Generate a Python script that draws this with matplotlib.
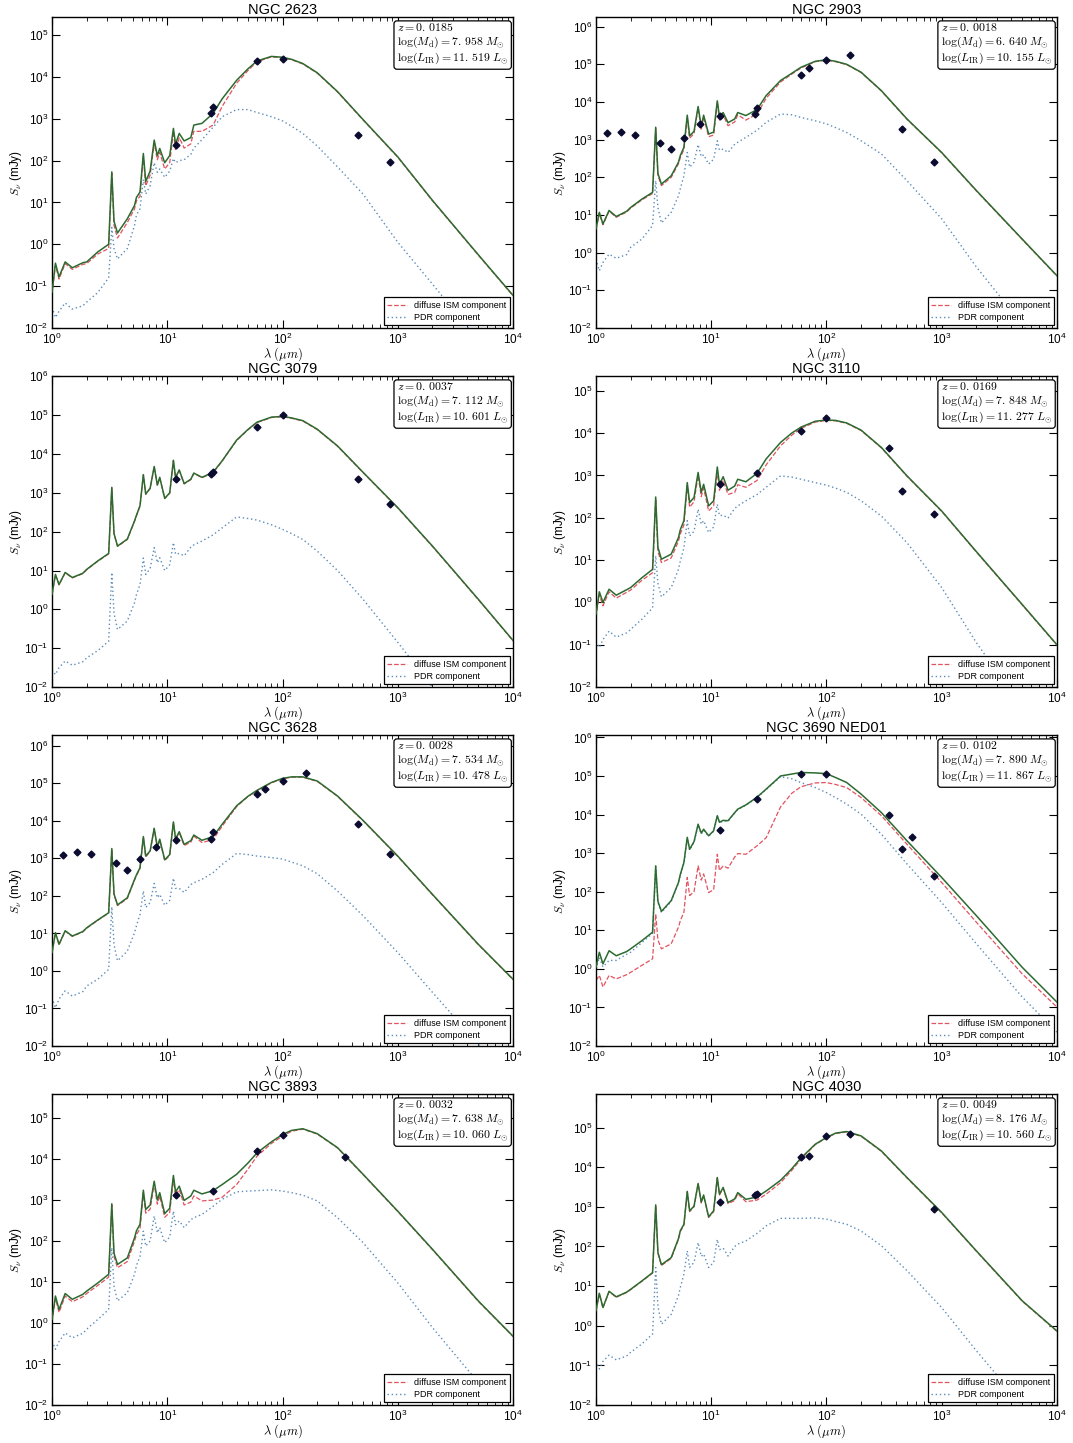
import numpy as np
import matplotlib
matplotlib.use("Agg")
import matplotlib.pyplot as plt
from matplotlib.ticker import LogLocator, NullFormatter, NullLocator

plt.rcParams['font.family'] = ['Liberation Sans', 'DejaVu Sans']
plt.rcParams['mathtext.fontset'] = 'cm'
plt.rcParams['xtick.direction'] = 'in'
plt.rcParams['ytick.direction'] = 'in'
plt.rcParams['xtick.top'] = True
plt.rcParams['ytick.right'] = True

# model wavelength grid (micron); model fluxes below are log10(mJy)
wavelength = [1.0, 1.07, 1.15, 1.3, 1.5, 1.85, 2.0, 2.5, 3.1, 3.3,
              3.45, 3.7, 4.5, 5.2, 5.4, 5.8, 6.2, 6.5, 7.1, 7.7,
              8.2, 8.6, 9.5, 10.5, 11.3, 11.8, 12.7, 14.0, 16.0, 17.0,
              20.0, 25.0, 30.0, 40.0, 50.0, 60.0, 80.0, 100.0, 120.0, 150.0,
              200.0, 300.0, 500.0, 1000.0, 2000.0, 5000.0, 10000.0]

# NGC 2623
ngc2623_total = [-1.14, -0.45, -0.78, -0.42, -0.56, -0.44, -0.42, -0.18, 0.00, 1.73,
                 0.55, 0.27, 0.61, 0.93, 1.12, 1.25, 2.17, 1.50, 1.75, 2.49,
                 2.12, 2.29, 1.95, 2.12, 2.77, 2.40, 2.65, 2.47, 2.55, 2.85,
                 2.89, 3.13, 3.48, 3.92, 4.19, 4.38, 4.49, 4.47, 4.42, 4.32,
                 4.10, 3.65, 2.98, 2.09, 1.05, -0.25, -1.22]
ngc2623_ism = [-1.20, -0.50, -0.83, -0.46, -0.60, -0.48, -0.46, -0.23, -0.10, 1.70,
               0.45, 0.15, 0.52, 0.85, 1.04, 1.15, 2.10, 1.40, 1.65, 2.42,
               2.02, 2.20, 1.80, 1.95, 2.70, 2.25, 2.55, 2.30, 2.40, 2.70,
               2.70, 2.85, 3.30, 3.85, 4.15, 4.36, 4.48, 4.46, 4.41, 4.31,
               4.09, 3.64, 2.97, 2.08, 1.04, -0.26, -1.23]
ngc2623_pdr = [-1.50, -1.75, -1.60, -1.40, -1.55, -1.47, -1.38, -1.15, -0.80, 0.40,
               -0.10, -0.35, -0.10, 0.45, 0.70, 0.85, 1.55, 1.20, 1.40, 1.95,
               1.72, 1.80, 1.60, 1.75, 2.05, 1.95, 2.00, 2.02, 2.15, 2.30,
               2.50, 2.80, 3.05, 3.22, 3.22, 3.15, 3.05, 2.95, 2.82, 2.65,
               2.35, 1.85, 1.20, 0.05, -0.95, -2.30, -3.40]
ngc2623_obs_wl = [12, 24, 25, 60, 100, 450, 850]
ngc2623_obs_flux = [235, 1400, 1900, 24500, 27000, 400, 92]

# NGC 2903
ngc2903_total = [0.63, 1.07, 0.76, 1.12, 0.96, 1.10, 1.20, 1.42, 1.60, 3.33,
                 2.10, 1.82, 2.04, 2.40, 2.58, 2.80, 3.65, 3.10, 3.22, 3.88,
                 3.35, 3.65, 3.15, 3.20, 4.03, 3.60, 3.72, 3.45, 3.55, 3.72,
                 3.64, 3.80, 4.17, 4.57, 4.76, 4.92, 5.08, 5.12, 5.08, 5.00,
                 4.79, 4.30, 3.55, 2.66, 1.65, 0.36, -0.61]
ngc2903_ism = [0.60, 1.05, 0.74, 1.10, 0.94, 1.08, 1.18, 1.40, 1.57, 3.30,
               2.05, 1.78, 2.00, 2.36, 2.53, 2.74, 3.60, 3.04, 3.16, 3.84,
               3.28, 3.60, 3.08, 3.12, 4.00, 3.52, 3.66, 3.37, 3.47, 3.66,
               3.52, 3.68, 4.10, 4.53, 4.74, 4.90, 5.07, 5.11, 5.07, 4.99,
               4.78, 4.29, 3.54, 2.65, 1.64, 0.35, -0.62]
ngc2903_pdr = [-0.17, -0.48, -0.26, -0.04, -0.15, -0.05, 0.14, 0.36, 0.72, 1.91,
               1.20, 0.79, 1.07, 1.51, 1.70, 2.04, 2.66, 2.27, 2.40, 2.87,
               2.55, 2.60, 2.35, 2.48, 2.97, 2.72, 2.75, 2.66, 2.88, 2.93,
               3.06, 3.25, 3.46, 3.68, 3.66, 3.59, 3.50, 3.42, 3.32, 3.19,
               2.97, 2.62, 1.91, 0.90, -0.38, -1.90, -3.10]
ngc2903_obs_wl = [1.25, 1.65, 2.17, 3.6, 4.5, 5.8, 8.0, 12, 24, 25, 60, 70, 100, 160, 450, 850]
ngc2903_obs_flux = [1500, 1560, 1350, 800, 550, 1100, 2600, 4150, 4700, 6900,
                    52000, 78000, 132000, 180000, 1900, 255]

# NGC 3079
ngc3079_total = [0.39, 0.90, 0.64, 0.95, 0.82, 0.93, 1.03, 1.25, 1.44, 3.14,
                 1.95, 1.63, 1.81, 2.28, 2.42, 2.67, 3.47, 2.97, 3.12, 3.68,
                 3.20, 3.40, 2.86, 3.00, 3.84, 3.40, 3.59, 3.24, 3.35, 3.51,
                 3.40, 3.53, 3.83, 4.36, 4.63, 4.82, 4.95, 4.97, 4.93, 4.86,
                 4.64, 4.21, 3.53, 2.62, 1.63, 0.26, -0.80]
ngc3079_ism = [0.38, 0.89, 0.63, 0.94, 0.81, 0.92, 1.02, 1.24, 1.43, 3.13,
               1.94, 1.62, 1.80, 2.27, 2.41, 2.66, 3.46, 2.96, 3.11, 3.67,
               3.19, 3.39, 2.85, 2.99, 3.83, 3.39, 3.58, 3.23, 3.34, 3.50,
               3.39, 3.52, 3.82, 4.35, 4.62, 4.81, 4.94, 4.96, 4.92, 4.85,
               4.63, 4.20, 3.52, 2.61, 1.62, 0.25, -0.81]
ngc3079_pdr = [-1.55, -1.68, -1.50, -1.33, -1.44, -1.35, -1.25, -1.06, -0.82, 0.95,
               -0.10, -0.52, -0.30, 0.17, 0.38, 0.64, 1.32, 0.90, 1.05, 1.59,
               1.20, 1.33, 1.00, 1.15, 1.72, 1.42, 1.44, 1.38, 1.60, 1.66,
               1.76, 1.92, 2.10, 2.38, 2.34, 2.30, 2.18, 2.06, 1.95, 1.80,
               1.50, 1.00, 0.26, -0.85, -2.00, -3.50, -4.70]
ngc3079_obs_wl = [12, 24, 25, 60, 100, 450, 850]
ngc3079_obs_flux = [2300, 3000, 3400, 50000, 102000, 2300, 520]

# NGC 3110
ngc3110_total = [-0.28, 0.25, 0.00, 0.31, 0.17, 0.30, 0.35, 0.58, 0.78, 2.49,
                 1.30, 1.02, 1.14, 1.53, 1.72, 1.93, 2.83, 2.36, 2.48, 3.07,
                 2.60, 2.79, 2.28, 2.40, 3.20, 2.78, 2.97, 2.65, 2.75, 2.91,
                 2.85, 3.05, 3.39, 3.78, 4.00, 4.14, 4.28, 4.31, 4.30, 4.24,
                 4.07, 3.66, 2.99, 2.16, 1.20, -0.05, -1.00]
ngc3110_ism = [-0.35, 0.18, -0.08, 0.25, 0.10, 0.24, 0.29, 0.52, 0.70, 2.45,
               1.20, 0.94, 1.05, 1.45, 1.62, 1.83, 2.76, 2.25, 2.38, 3.00,
               2.50, 2.70, 2.16, 2.28, 3.10, 2.65, 2.88, 2.55, 2.60, 2.78,
               2.72, 2.88, 3.25, 3.70, 3.95, 4.11, 4.26, 4.30, 4.29, 4.23,
               4.06, 3.65, 2.98, 2.15, 1.19, -0.06, -1.01]
ngc3110_pdr = [-0.92, -1.07, -0.88, -0.68, -0.82, -0.72, -0.64, -0.40, -0.13, 1.10,
               0.45, 0.13, 0.35, 0.78, 0.98, 1.29, 1.93, 1.57, 1.68, 2.20,
               1.85, 1.93, 1.65, 1.78, 2.32, 2.05, 2.06, 1.99, 2.22, 2.28,
               2.40, 2.55, 2.72, 2.99, 2.96, 2.91, 2.83, 2.77, 2.70, 2.60,
               2.40, 2.04, 1.41, 0.35, -0.95, -2.50, -3.70]
ngc3110_obs_wl = [12, 25, 60, 100, 350, 450, 850]
ngc3110_obs_flux = [620, 1150, 11400, 22300, 4450, 420, 121]

# NGC 3628
ngc3628_total = [0.49, 1.02, 0.71, 1.07, 0.93, 1.05, 1.15, 1.36, 1.55, 3.26,
                 2.05, 1.76, 1.95, 2.44, 2.56, 2.75, 3.58, 3.06, 3.20, 3.80,
                 3.30, 3.51, 2.96, 3.10, 3.97, 3.52, 3.71, 3.37, 3.47, 3.62,
                 3.48, 3.58, 3.91, 4.40, 4.65, 4.81, 5.02, 5.13, 5.17, 5.17,
                 5.06, 4.66, 4.01, 3.06, 2.04, 0.71, -0.22]
ngc3628_ism = [0.48, 1.01, 0.70, 1.06, 0.92, 1.04, 1.14, 1.35, 1.54, 3.25,
               2.03, 1.74, 1.93, 2.42, 2.54, 2.73, 3.57, 3.04, 3.18, 3.79,
               3.28, 3.49, 2.94, 3.08, 3.96, 3.50, 3.69, 3.34, 3.43, 3.59,
               3.42, 3.50, 3.86, 4.38, 4.64, 4.80, 5.01, 5.12, 5.16, 5.16,
               5.05, 4.65, 4.00, 3.05, 2.03, 0.70, -0.23]
ngc3628_pdr = [-0.71, -0.98, -0.75, -0.53, -0.67, -0.55, -0.40, -0.22, 0.04, 1.71,
               0.70, 0.27, 0.53, 1.02, 1.20, 1.51, 2.13, 1.69, 1.82, 2.33,
               1.95, 2.04, 1.75, 1.88, 2.47, 2.20, 2.20, 2.09, 2.30, 2.35,
               2.44, 2.62, 2.84, 3.13, 3.10, 3.06, 3.02, 2.98, 2.90, 2.80,
               2.59, 2.13, 1.47, 0.49, -0.57, -1.95, -3.00]
ngc3628_obs_wl = [1.25, 1.65, 2.17, 3.6, 4.5, 5.8, 8.0, 12, 24, 25, 60, 70, 100, 160, 450, 850]
ngc3628_obs_flux = [1200, 1510, 1340, 740, 500, 950, 2050, 3000, 3370, 5100,
                    51000, 69000, 117000, 192000, 8100, 1290]

# NGC 3690 NED01
ngc3690_total = [0.04, 0.43, 0.13, 0.47, 0.34, 0.45, 0.52, 0.73, 0.95, 2.67,
                 1.75, 1.49, 1.77, 2.24, 2.45, 2.76, 3.41, 3.10, 3.30, 3.75,
                 3.52, 3.62, 3.45, 3.58, 3.97, 3.80, 3.85, 3.84, 4.05, 4.14,
                 4.25, 4.45, 4.66, 5.00, 5.05, 5.09, 5.08, 5.06, 4.96, 4.83,
                 4.53, 4.05, 3.32, 2.37, 1.38, 0.04, -0.86]
ngc3690_ism = [-0.30, -0.17, -0.47, -0.17, -0.26, -0.15, -0.09, 0.09, 0.26, 1.42,
               0.75, 0.52, 0.65, 1.08, 1.25, 1.47, 2.37, 1.90, 2.00, 2.67,
               2.30, 2.46, 1.98, 2.05, 2.97, 2.55, 2.67, 2.61, 2.90, 2.99,
               2.97, 3.19, 3.40, 4.20, 4.55, 4.72, 4.82, 4.83, 4.78, 4.70,
               4.44, 3.97, 3.23, 2.24, 1.21, -0.13, -0.99]
ngc3690_pdr = [0.00, 0.30, 0.05, 0.22, 0.22, 0.38, 0.43, 0.68, 0.92, 2.65,
               1.72, 1.46, 1.75, 2.22, 2.43, 2.74, 3.38, 3.08, 3.28, 3.72,
               3.50, 3.59, 3.44, 3.57, 3.95, 3.79, 3.83, 3.83, 4.04, 4.13,
               4.24, 4.44, 4.65, 4.98, 4.93, 4.83, 4.70, 4.57, 4.44, 4.27,
               4.01, 3.49, 2.72, 1.72, 0.65, -0.73, -1.64]
ngc3690_obs_wl = [12, 25, 60, 100, 350, 450, 550, 850]
ngc3690_obs_flux = [3900, 25000, 115000, 113000, 9600, 1270, 2550, 250]

# NGC 3893
ngc3893_total = [0.09, 0.66, 0.33, 0.72, 0.58, 0.70, 0.78, 0.98, 1.19, 2.91,
                 1.70, 1.43, 1.59, 2.08, 2.25, 2.41, 3.24, 2.77, 2.88, 3.46,
                 3.00, 3.18, 2.67, 2.80, 3.60, 3.20, 3.34, 2.99, 3.10, 3.24,
                 3.15, 3.23, 3.38, 3.63, 3.90, 4.15, 4.42, 4.60, 4.70, 4.74,
                 4.62, 4.28, 3.63, 2.73, 1.80, 0.54, -0.32]
ngc3893_ism = [0.03, 0.60, 0.26, 0.66, 0.52, 0.64, 0.72, 0.92, 1.12, 2.88,
               1.62, 1.35, 1.50, 2.00, 2.16, 2.30, 3.18, 2.68, 2.78, 3.40,
               2.90, 3.10, 2.58, 2.70, 3.52, 3.10, 3.26, 2.88, 2.95, 3.10,
               2.98, 3.00, 3.07, 3.38, 3.75, 4.07, 4.38, 4.56, 4.68, 4.73,
               4.61, 4.27, 3.62, 2.72, 1.79, 0.53, -0.33]
ngc3893_pdr = [-0.44, -0.64, -0.45, -0.24, -0.36, -0.25, -0.15, 0.09, 0.33, 1.84,
               0.90, 0.54, 0.74, 1.19, 1.40, 1.63, 2.24, 1.88, 2.00, 2.61,
               2.20, 2.33, 1.96, 2.10, 2.73, 2.40, 2.49, 2.33, 2.52, 2.57,
               2.65, 2.85, 3.02, 3.20, 3.22, 3.23, 3.25, 3.22, 3.18, 3.12,
               2.98, 2.57, 1.96, 0.98, -0.11, -1.45, -2.45]
ngc3893_obs_wl = [12, 25, 60, 100, 350]
ngc3893_obs_flux = [1320, 1700, 15400, 38500, 11400]

# NGC 4030
ngc4030_total = [0.38, 0.82, 0.46, 0.87, 0.73, 0.85, 0.92, 1.13, 1.34, 3.05,
                 1.85, 1.54, 1.72, 2.20, 2.40, 2.56, 3.39, 2.90, 3.02, 3.59,
                 3.12, 3.30, 2.75, 2.90, 3.74, 3.32, 3.49, 3.11, 3.20, 3.36,
                 3.19, 3.25, 3.40, 3.67, 3.96, 4.23, 4.58, 4.75, 4.86, 4.90,
                 4.79, 4.41, 3.74, 2.86, 1.89, 0.63, -0.13]
ngc4030_ism = [0.37, 0.81, 0.45, 0.86, 0.72, 0.84, 0.91, 1.12, 1.33, 3.04,
               1.83, 1.52, 1.70, 2.18, 2.38, 2.54, 3.38, 2.88, 3.00, 3.58,
               3.10, 3.28, 2.73, 2.88, 3.73, 3.30, 3.47, 3.08, 3.16, 3.33,
               3.13, 3.17, 3.32, 3.61, 3.92, 4.20, 4.57, 4.74, 4.85, 4.89,
               4.78, 4.40, 3.73, 2.85, 1.88, 0.62, -0.14]
ngc4030_pdr = [-0.88, -1.09, -0.90, -0.74, -0.86, -0.76, -0.67, -0.46, -0.21, 1.47,
               0.50, 0.04, 0.29, 0.76, 0.97, 1.30, 1.89, 1.47, 1.60, 2.10,
               1.75, 1.81, 1.47, 1.60, 2.18, 1.92, 1.96, 1.76, 2.00, 2.06,
               2.14, 2.33, 2.52, 2.71, 2.71, 2.71, 2.72, 2.69, 2.63, 2.56,
               2.39, 2.02, 1.39, 0.46, -0.63, -2.00, -3.00]
ngc4030_obs_wl = [12, 24, 25, 60, 70, 100, 160, 850]
ngc4030_obs_flux = [1320, 1960, 2170, 18600, 19400, 60000, 70000, 860]

names = ["NGC 2623", "NGC 2903", "NGC 3079", "NGC 3110",
         "NGC 3628", "NGC 3690 NED01", "NGC 3893", "NGC 4030"]
redshift = ["0.0185", "0.0018", "0.0037", "0.0169", "0.0028", "0.0102", "0.0032", "0.0049"]
log_mdust = ["7.958", "6.640", "7.112", "7.848", "7.534", "7.890", "7.638", "8.176"]
log_lir = ["11.519", "10.155", "10.601", "11.277", "10.478", "11.867", "10.060", "10.560"]

models = [
    (ngc2623_total, ngc2623_ism, ngc2623_pdr, ngc2623_obs_wl, ngc2623_obs_flux),
    (ngc2903_total, ngc2903_ism, ngc2903_pdr, ngc2903_obs_wl, ngc2903_obs_flux),
    (ngc3079_total, ngc3079_ism, ngc3079_pdr, ngc3079_obs_wl, ngc3079_obs_flux),
    (ngc3110_total, ngc3110_ism, ngc3110_pdr, ngc3110_obs_wl, ngc3110_obs_flux),
    (ngc3628_total, ngc3628_ism, ngc3628_pdr, ngc3628_obs_wl, ngc3628_obs_flux),
    (ngc3690_total, ngc3690_ism, ngc3690_pdr, ngc3690_obs_wl, ngc3690_obs_flux),
    (ngc3893_total, ngc3893_ism, ngc3893_pdr, ngc3893_obs_wl, ngc3893_obs_flux),
    (ngc4030_total, ngc4030_ism, ngc4030_pdr, ngc4030_obs_wl, ngc4030_obs_flux),
]

fig = plt.figure(figsize=(10.73, 14.43), dpi=100)

lefts = [0.0485, 0.5554]
bottoms = [0.7727, 0.5239, 0.2751, 0.0263]
width, height = 0.4296, 0.2155

wl = np.array(wavelength)

for i, (total, ism, pdr, obs_wl, obs_flux) in enumerate(models):
    ax = fig.add_axes([lefts[i % 2], bottoms[i // 2], width, height])

    ax.plot(wl, 10 ** np.array(ism), color='#e2525f', ls='--', lw=0.9,
            label='diffuse ISM component', zorder=2)
    ax.plot(wl, 10 ** np.array(pdr), color='#5b8cba', ls=(0, (1, 2)), lw=1.0,
            label='PDR component', zorder=2)
    ax.plot(wl, 10 ** np.array(total), color='#2c6b30', lw=1.1, zorder=3)
    ax.plot(obs_wl, obs_flux, 'D', color='#0b0b30', ms=3.5, zorder=4)

    ax.set_xscale('log')
    ax.set_yscale('log')
    ax.set_xlim(1, 1e4)
    ax.set_ylim(1e-2, 10 * max(obs_flux))

    ax.xaxis.set_major_locator(LogLocator(base=10, numticks=10))
    ax.yaxis.set_major_locator(LogLocator(base=10, numticks=20))
    ax.xaxis.set_minor_locator(LogLocator(base=10, subs=np.arange(2, 10), numticks=20))
    ax.yaxis.set_minor_locator(NullLocator())
    ax.xaxis.set_minor_formatter(NullFormatter())
    ax.tick_params(which='major', length=6, width=0.8, labelsize=8.5, pad=2.5)
    ax.tick_params(which='minor', length=3, width=0.6)
    for sp in ax.spines.values():
        sp.set_linewidth(1.0)

    ax.set_title(names[i], fontsize=10.5, pad=2)
    ax.set_xlabel(r'$\lambda\ (\mu m)$', fontsize=9, labelpad=-1)
    ax.set_ylabel(r'$S_\nu$ (mJy)', fontsize=8.5, labelpad=0)

    info = (r'$z=0.\,%s$' % redshift[i][2:] + '\n'
            + r'$\log(M_{\rm d})=%s.\,%s\ M_{\odot}$' % tuple(log_mdust[i].split('.')) + '\n'
            + r'$\log(L_{\rm IR})=%s.\,%s\ L_{\odot}$' % tuple(log_lir[i].split('.')))
    ax.text(0.99, 0.985, info, transform=ax.transAxes, ha='right', va='top',
            ma='left', fontsize=8.5, linespacing=1.1,
            bbox=dict(boxstyle='round,pad=0.25', fc='white', ec='black', lw=0.9))

    leg = ax.legend(loc='lower right', fontsize=6.5, fancybox=False, framealpha=1,
                    edgecolor='black', handlelength=2.2, borderaxespad=0.3,
                    labelspacing=0.3)
    leg.get_frame().set_linewidth(0.9)

fig.savefig('out.png', dpi=100)
